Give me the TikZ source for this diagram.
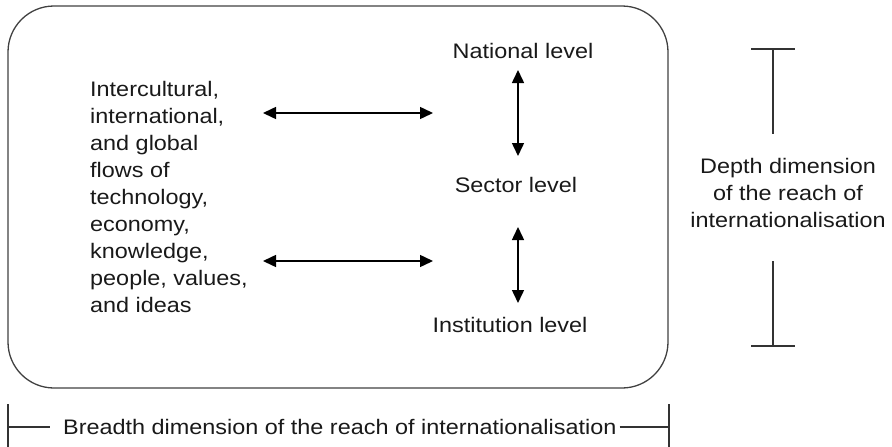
\documentclass[tikz,border=0pt]{standalone}
\usepackage{fontspec}
\setmainfont{Liberation Sans}[FakeStretch=1.115]
\usetikzlibrary{arrows.meta}
\begin{document}
\begin{tikzpicture}[x=1pt,y=-1pt,
  lbl/.style={font=\fontsize{21}{27}\selectfont, inner sep=0pt, text=black!90},
  flow/.style={line width=1.5pt, {Triangle[length=13pt,width=12pt]}-{Triangle[length=13pt,width=12pt]}},
  dimline/.style={line width=1.2pt, draw=black!80},
  frame/.style={line width=1.3pt, draw=black!75, rounded corners=46pt}]
\useasboundingbox (0,0) rectangle (892,447);

% outer frame
\draw[frame] (8,6) rectangle (668,388);

% left-hand text block
\node[lbl, anchor=north west, align=left] (flows) at (90,81)
  {Intercultural,\\international,\\and global\\flows of\\technology,\\economy,\\knowledge,\\people, values,\\and ideas};

% levels
\node[lbl] (nat) at (523,51) {National level};
\node[lbl] (sec) at (516,185) {Sector level};
\node[lbl] (inst) at (510,325) {Institution level};

% horizontal arrows
\coordinate (h1a) at (263,113);
\coordinate (h1b) at (433,113);
\coordinate (h2a) at (263,261);
\coordinate (h2b) at (433,261);
\draw[flow] (h1a) -- (h1b);
\draw[flow] (h2a) -- (h2b);

% vertical arrows
\coordinate (v1a) at (518,70);
\coordinate (v1b) at (518,156);
\coordinate (v2a) at (518,227);
\coordinate (v2b) at (518,303);
\draw[flow] (v1a) -- (v1b);
\draw[flow] (v2a) -- (v2b);

% depth dimension
\node[lbl, align=center] (depth) at (788,193)
  {Depth dimension\\of the reach of\\internationalisation};
\coordinate (dt) at (773,49);
\coordinate (dtm) at (773,134);
\coordinate (dbm) at (773,261);
\coordinate (db) at (773,346);
\draw[dimline] (dt) -- (dtm);
\draw[dimline] (dbm) -- (db);
\draw[dimline] ([xshift=-22pt]dt) -- ([xshift=22pt]dt);
\draw[dimline] ([xshift=-22pt]db) -- ([xshift=22pt]db);

% breadth dimension
\node[lbl, anchor=west] (breadth) at (63,427)
  {Breadth dimension of the reach of internationalisation};
\coordinate (bl) at (8,427);
\coordinate (br) at (669,427);
\draw[dimline] (bl) -- (breadth.west -| 50,0);
\draw[dimline] (breadth.east) ++(3,0) -- (br);
\draw[dimline] (8,404) -- (8,447);
\draw[dimline] (669,404) -- (669,447);
\end{tikzpicture}
\end{document}
